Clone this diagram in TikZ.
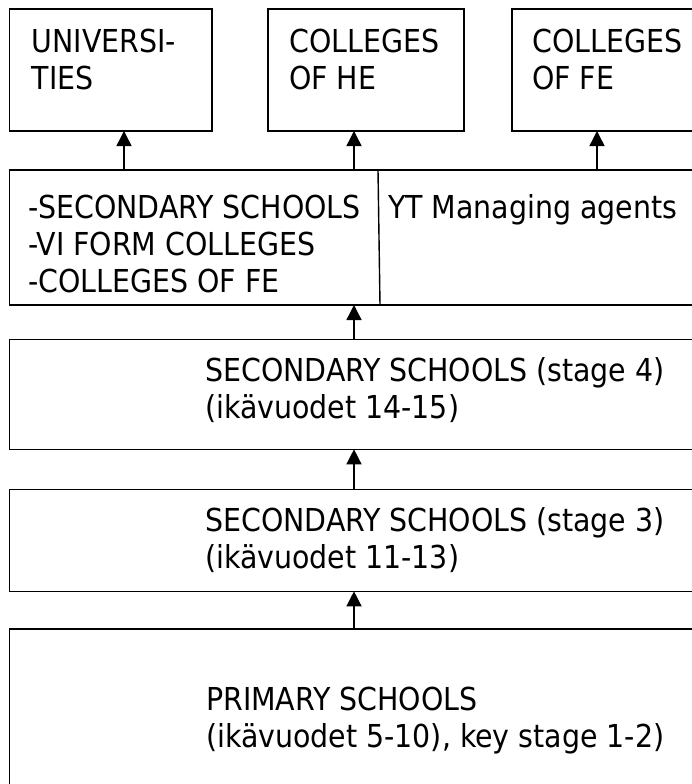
\documentclass[tikz,border=0pt]{standalone}
\usepackage{fontspec}
\setmainfont{DejaVu Sans Condensed}
\usetikzlibrary{arrows.meta}
\begin{document}
\begin{tikzpicture}[x=1pt,y=-1pt,
  box/.style={draw=black,line width=1.6pt,inner sep=0pt,outer sep=0pt},
  lbl/.style={anchor=base west,inner sep=0pt,font=\fontsize{31.6}{37}\selectfont},
  up/.style={line width=1.4pt,-{Triangle[width=15pt,length=15pt]}}]
  \useasboundingbox (0,0) rectangle (692,784);
  \clip (0,0) rectangle (692,784);

  % top row of institutions
  \node[box,minimum width=202.7pt,minimum height=121.7pt,anchor=north west] (uni) at (9.3,9.3) {};
  \node[box,minimum width=196.3pt,minimum height=121.7pt,anchor=north west] (he)  at (267.7,9.3) {};
  \node[box,minimum width=220pt,minimum height=121.7pt,anchor=north west] (fe)    at (512,9.3) {};

  % sixth-form level with the split for YT agents
  \node[box,minimum width=720pt,minimum height=135pt,anchor=north west] (six) at (9.3,170) {};
  \coordinate (dtop) at (378,170);
  \coordinate (dbot) at (380,305);
  \draw[line width=1.4pt] (dtop) -- (dbot);

  % compulsory stages
  \node[box,minimum width=720pt,minimum height=110pt,anchor=north west] (ks4) at (9.3,339.3) {};
  \node[box,minimum width=720pt,minimum height=102pt,anchor=north west] (ks3) at (9.3,489.3) {};
  \node[box,minimum width=720pt,minimum height=200pt,anchor=north west] (pri) at (9.3,629) {};

  % labels
  \node[lbl] (tuni) at (31.7,52.7) {\begin{tabular}[t]{@{}l@{}}UNIVERSI-\\TIES\end{tabular}};
  \node[lbl] (the)  at (289,52.7) {\begin{tabular}[t]{@{}l@{}}COLLEGES\\OF HE\end{tabular}};
  \node[lbl] (tfe)  at (532,52.7) {\begin{tabular}[t]{@{}l@{}}COLLEGES\\OF FE\end{tabular}};
  \node[lbl] (tsix) at (28,218) {\begin{tabular}[t]{@{}l@{}}-SECONDARY SCHOOLS\\-VI FORM COLLEGES\\-COLLEGES OF FE\end{tabular}};
  \node[lbl] (tyt)  at (388,218) {YT Managing agents};
  \node[lbl] (tks4) at (205,381.7) {\begin{tabular}[t]{@{}l@{}}SECONDARY SCHOOLS (stage 4)\\(ikävuodet 14-15)\end{tabular}};
  \node[lbl] (tks3) at (205,531.7) {\begin{tabular}[t]{@{}l@{}}SECONDARY SCHOOLS (stage 3)\\(ikävuodet 11-13)\end{tabular}};
  \node[lbl] (tpri) at (206,710.7) {\begin{tabular}[t]{@{}l@{}}PRIMARY SCHOOLS\\(ikävuodet 5-10), key stage 1-2)\end{tabular}};

  % arrow columns
  \coordinate (c1) at (124,0);
  \coordinate (c2) at (354,0);
  \coordinate (c3) at (597,0);

  % progression arrows
  \draw[up] (six.north -| c1) -- (uni.south -| c1);
  \draw[up] (six.north -| c2) -- (he.south -| c2);
  \draw[up] (six.north -| c3) -- (fe.south -| c3);
  \draw[up] (ks4.north -| c2) -- (six.south -| c2);
  \draw[up] (ks3.north -| c2) -- (ks4.south -| c2);
  \draw[up] (pri.north -| c2) -- (ks3.south -| c2);
\end{tikzpicture}
\end{document}
